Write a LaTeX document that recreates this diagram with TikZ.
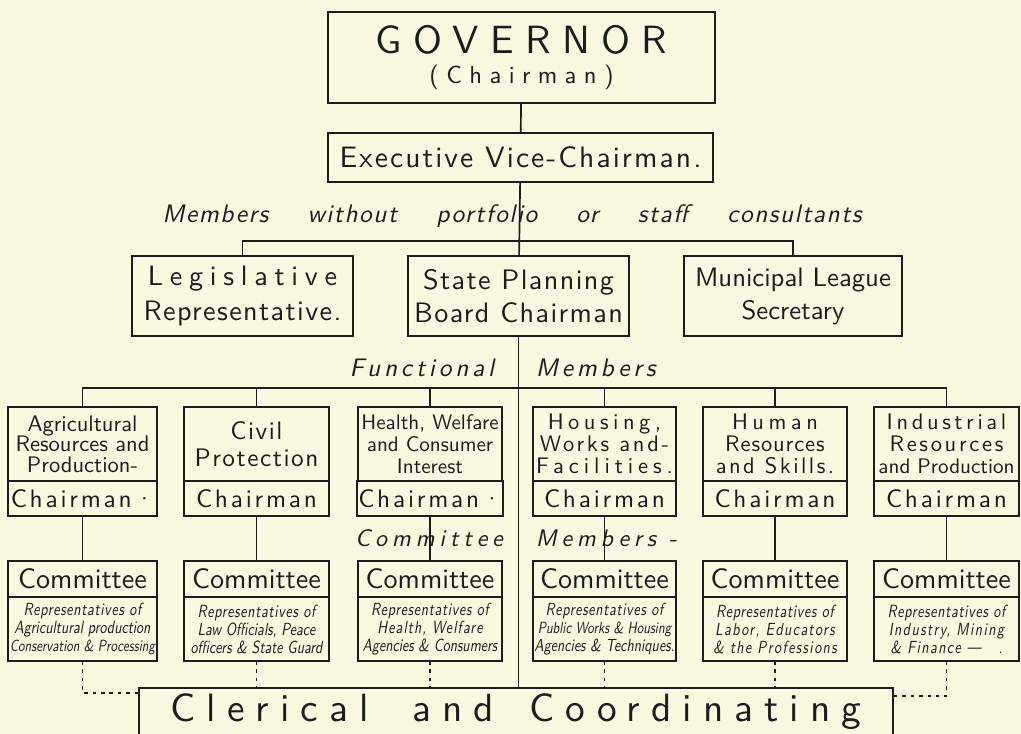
\documentclass[tikz,border=0pt]{standalone}
\usepackage{fontspec}
\usepackage{tikz}
\usetikzlibrary{positioning}

\newfontfamily\chartfont{lmsans10-regular.otf}
\newfontfamily\chartslant{lmsans10-oblique.otf}
\newfontfamily\repfont{lmsans10-oblique.otf}[FakeStretch=0.8]
\newcommand{\spread}[2]{{\addfontfeature{LetterSpace=#1}#2}}

\definecolor{paper}{RGB}{250,248,225}
\definecolor{ink}{RGB}{28,28,28}

\begin{document}
\begin{tikzpicture}[
    x = 0.025cm,
    y = -0.025cm,
    color = ink,
    line width = 1.2pt,
    box/.style = {
      rectangle,
      draw,
      outer sep=0,
      inner sep=1pt,
      align=center,
      font=\chartfont
    },
    titlebox/.style = {
      box,
      minimum height=1.85cm
    },
    chairbox/.style = {
      box,
      minimum height=0.875cm,
      font=\chartfont\fontsize{18}{20}\selectfont\addfontfeature{LetterSpace=11}
    },
    combox/.style = {
      box,
      minimum height=0.9cm,
      font=\chartfont\fontsize{20}{22}\selectfont
    },
    repbox/.style = {
      box,
      minimum height=1.6cm,
      font=\repfont\fontsize{12.5}{12.8}\selectfont
    },
    itext/.style = {
      inner sep=0,
      font=\chartslant\fontsize{18}{20}\selectfont\addfontfeature{LetterSpace=15}
    },
    dots/.style = {
      dash pattern=on 2.5pt off 3.5pt
    }
  ]
    \useasboundingbox (0,0) rectangle (1021,734);
    \fill[paper] (0,0) rectangle (1021,734);

    % top of the chart
    \node[box, minimum width=9.675cm, minimum height=2.275cm] (gov) at (521.5,57.5)
      {\fontsize{28}{30}\selectfont\addfontfeature{LetterSpace=29}GOVERNOR\\[7pt]
       \fontsize{17.5}{21}\selectfont\addfontfeature{LetterSpace=30}(Chairman)};
    \node[box, minimum width=9.625cm, minimum height=1.225cm,
      font=\chartfont\fontsize{21}{24}\selectfont\addfontfeature{LetterSpace=7}] (exec) at (520.5,157.5)
      {Executive Vice-Chairman.};
    \node[itext, anchor=base, font=\chartslant\fontsize{18}{20}\selectfont\addfontfeature{LetterSpace=6}] (portfolio) at (512,223)
      {Members\hspace{1.55em}without\hspace{1.55em}portfolio\hspace{1.55em}or\hspace{1.55em}staff\hspace{1.55em}consultants};

    \node[box, minimum width=5.525cm, minimum height=2cm,
      font=\chartfont\fontsize{20}{25}\selectfont] (legis) at (242.5,296)
      {\spread{24}{Legislative}\\\spread{5}{Representative.}};
    \node[box, minimum width=5.525cm, minimum height=2cm,
      font=\chartfont\fontsize{20}{23.5}\selectfont\addfontfeature{LetterSpace=5}] (state) at (518.5,296)
      {State Planning\\Board Chairman};
    \node[box, minimum width=5.45cm, minimum height=2cm,
      font=\chartfont\fontsize{19}{23.5}\selectfont] (muni) at (793,296)
      {Municipal League\\Secretary};

    \node[itext, anchor=base east] (functional) at (495,377) {Functional};
    \node[itext, anchor=base west] (members) at (535,377) {Members};

    % functional members
    \node[titlebox, minimum width=3.725cm, font=\chartfont\fontsize{16}{14.5}\selectfont] (agri) at (82.5,444)
      {Agricultural\\Resources and\\Production-};
    \node[chairbox, minimum width=3.725cm] (agrich) [below=0 of agri] {Chairman·};
    \node[titlebox, minimum width=3.625cm, font=\chartfont\fontsize{18}{19.5}\selectfont\addfontfeature{LetterSpace=6}] (civil) at (256.5,444)
      {Civil\\Protection};
    \node[chairbox, minimum width=3.625cm] (civilch) [below=0 of civil] {Chairman};
    \node[titlebox, minimum width=3.6cm, font=\chartfont\fontsize{15}{15.5}\selectfont] (health) at (430,444)
      {Health, Welfare\\and Consumer\\Interest};
    \node[chairbox, minimum width=3.6cm] (healthch) [below=0 of health] {Chairman·};
    \node[titlebox, minimum width=3.575cm, font=\chartfont\fontsize{16}{15.5}\selectfont] (housing) at (604.5,444)
      {\spread{20}{Housing,}\\\spread{12}{Works and-}\\\spread{22}{Facilities.}};
    \node[chairbox, minimum width=3.575cm] (housingch) [below=0 of housing] {Chairman};
    \node[titlebox, minimum width=3.6cm, font=\chartfont\fontsize{16}{15.5}\selectfont] (human) at (775,444)
      {\spread{20}{Human}\\\spread{4}{Resources}\\\spread{11}{and Skills.}};
    \node[chairbox, minimum width=3.6cm] (humanch) [below=0 of human] {Chairman};
    \node[titlebox, minimum width=3.625cm, font=\chartfont\fontsize{16}{15.5}\selectfont] (indus) at (946.5,444)
      {\spread{16}{Industrial}\\\spread{12}{Resources}\\{\fontsize{15}{15.5}\selectfont and Production}};
    \node[chairbox, minimum width=3.625cm] (indusch) [below=0 of indus] {Chairman};

    \node[itext, anchor=base, font=\chartslant\fontsize{17}{20}\selectfont\addfontfeature{LetterSpace=20}] (comlabel) at (429,547) {Committee};
    \node[itext, anchor=base west, font=\chartslant\fontsize{17}{20}\selectfont\addfontfeature{LetterSpace=20}] (memlabel) at (535,547) {Members -};

    % committees
    \node[combox, minimum width=3.725cm] (agricom) at (82.5,579) {Committee};
    \node[repbox, minimum width=3.725cm] (agrirep) [below=0 of agricom]
      {\spread{4}{Representatives of}\\Agricultural production\\{\fontsize{11.5}{12.8}\selectfont Conservation \& Processing}};
    \node[combox, minimum width=3.625cm] (civilcom) at (256.5,579) {Committee};
    \node[repbox, minimum width=3.625cm] (civilrep) [below=0 of civilcom]
      {\spread{4}{Representatives of}\\Law Officials, Peace\\officers \& State Guard};
    \node[combox, minimum width=3.6cm] (healthcom) at (430,579) {Committee};
    \node[repbox, minimum width=3.6cm] (healthrep) [below=0 of healthcom]
      {\spread{4}{Representatives of}\\\spread{6}{Health, Welfare}\\Agencies \& Consumers};
    \node[combox, minimum width=3.575cm] (housingcom) at (604.5,579) {Committee};
    \node[repbox, minimum width=3.575cm] (housingrep) [below=0 of housingcom]
      {\spread{4}{Representatives of}\\{\fontsize{11.5}{12.8}\selectfont Public Works \& Housing}\\Agencies \& Techniques.};
    \node[combox, minimum width=3.6cm] (humancom) at (775,579) {Committee};
    \node[repbox, minimum width=3.6cm] (humanrep) [below=0 of humancom]
      {\spread{4}{Representatives of}\\\spread{8}{Labor, Educators}\\\spread{8}{\& the Professions}};
    \node[combox, minimum width=3.625cm] (induscom) at (946.5,579) {Committee};
    \node[repbox, minimum width=3.625cm] (indusrep) [below=0 of induscom]
      {\spread{4}{Representatives of}\\\spread{8}{Industry, Mining}\\\spread{8}{\& Finance —\quad .}};

    \node[inner sep=0, minimum width=18.8cm, minimum height=1.125cm,
      font=\chartfont\fontsize{28}{30}\selectfont\addfontfeature{LetterSpace=28}] (clerical) at (516,711.5)
      {Clerical\hspace{1.1em}and\hspace{0.9em}Coordinating};
    \draw (clerical.south west) |- (clerical.north east) -- (clerical.south east);

    % connectors
    \draw (gov) -- (exec);
    \draw (exec) -- (state);
    \draw (legis.north) -- ++(0,-15) -| (muni.north);
    \draw (state) -- (state.south |- clerical.north);

    \draw (agri.north) -- ++(0,-19) -| (indus.north);
    \draw (civil.north) -- ++(0,-19);
    \draw (health.north) -- ++(0,-19);
    \draw (housing.north) -- ++(0,-19);
    \draw (human.north) -- ++(0,-19);

    \draw (agrich) -- (agricom);
    \draw (civilch) -- (civilcom);
    \draw (healthch) -- (healthcom);
    \draw (housingch) -- (housingcom);
    \draw (humanch) -- (humancom);
    \draw (indusch) -- (induscom);

    \draw[dots] (agrirep.south) |- ([yshift=-0.125cm]clerical.north west);
    \draw[dots] (civilrep) -- (civilrep.south |- clerical.north);
    \draw[dots] (healthrep) -- (healthrep.south |- clerical.north);
    \draw[dots] (housingrep) -- (housingrep.south |- clerical.north);
    \draw[dots] (humanrep) -- (humanrep.south |- clerical.north);
    \draw[dots] (indusrep.south) |- ([yshift=-0.2cm]clerical.north east);

  \end{tikzpicture}
\end{document}
